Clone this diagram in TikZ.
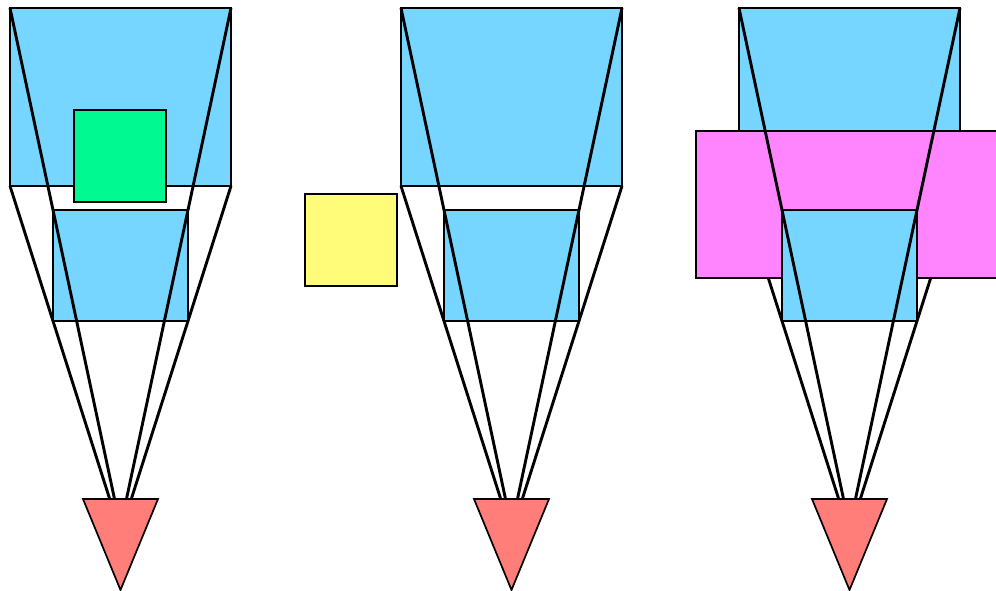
\documentclass[tikz,border=0pt]{standalone}
\usepackage{tikz}
\usetikzlibrary{positioning, calc}

\definecolor{sky}{HTML}{76D6FF}
\definecolor{seafoam}{HTML}{00FA92}
\definecolor{banana}{HTML}{FFFC79}
\definecolor{salmon}{HTML}{FF7E79}
\definecolor{bubblegum}{HTML}{FF85FF}

\begin{document}
\begin{tikzpicture}[x=1pt, y=-1pt,
    box/.style={draw=black, line width=1.7pt, inner sep=0pt, outer sep=0pt, anchor=north west},
    ray/.style={draw=black, line width=2.9pt},
    tri/.style={draw=black, line width=1.7pt, fill=salmon, line join=miter}]
  \useasboundingbox (0,0) rectangle (996,591);
  \clip (0,0) rectangle (996,591);
  % far planes and the outer rays
  \foreach \p/\dx in {a/0, b/391, c/729} {
    \node[box, fill=sky, minimum width=221pt, minimum height=178pt] (big\p) at (10+\dx,8) {};
    \node[box, fill=sky, minimum width=135pt, minimum height=111pt, below=24pt of big\p] (near\p) {};
    \draw[ray] (big\p.south west) -- ($(big\p.south west)!2.3185!(near\p.south west)$);
    \draw[ray] (big\p.south east) -- ($(big\p.south east)!2.3185!(near\p.south east)$);
  }
  % objects
  \node[box, fill=bubblegum, minimum width=320pt, minimum height=147pt] (wall) at (696,131) {};
  \node[box, fill=seafoam, minimum width=92pt, minimum height=92pt] (inside) at (74,110) {};
  \node[box, fill=banana, minimum width=92pt, minimum height=92pt] (outside) at (305,194) {};
  % near planes, inner rays and cameras
  \foreach \p/\dx in {a/0, b/391, c/729} {
    \node[box, fill=sky, minimum width=135pt, minimum height=111pt, below=24pt of big\p] (near\p) {};
    \draw[ray] (big\p.north west) -- ($(big\p.north west)!2.4307!(near\p.north west)$);
    \draw[ray] (big\p.north east) -- ($(big\p.north east)!2.4307!(near\p.north east)$);
    \coordinate (eyel\p) at (83+\dx,499);
    \coordinate (eyer\p) at (158+\dx,499);
    \coordinate (eye\p) at (120.5+\dx,590);
    \draw[tri] (eyel\p) -- (eyer\p) -- (eye\p) -- cycle;
  }
\end{tikzpicture}
\end{document}
